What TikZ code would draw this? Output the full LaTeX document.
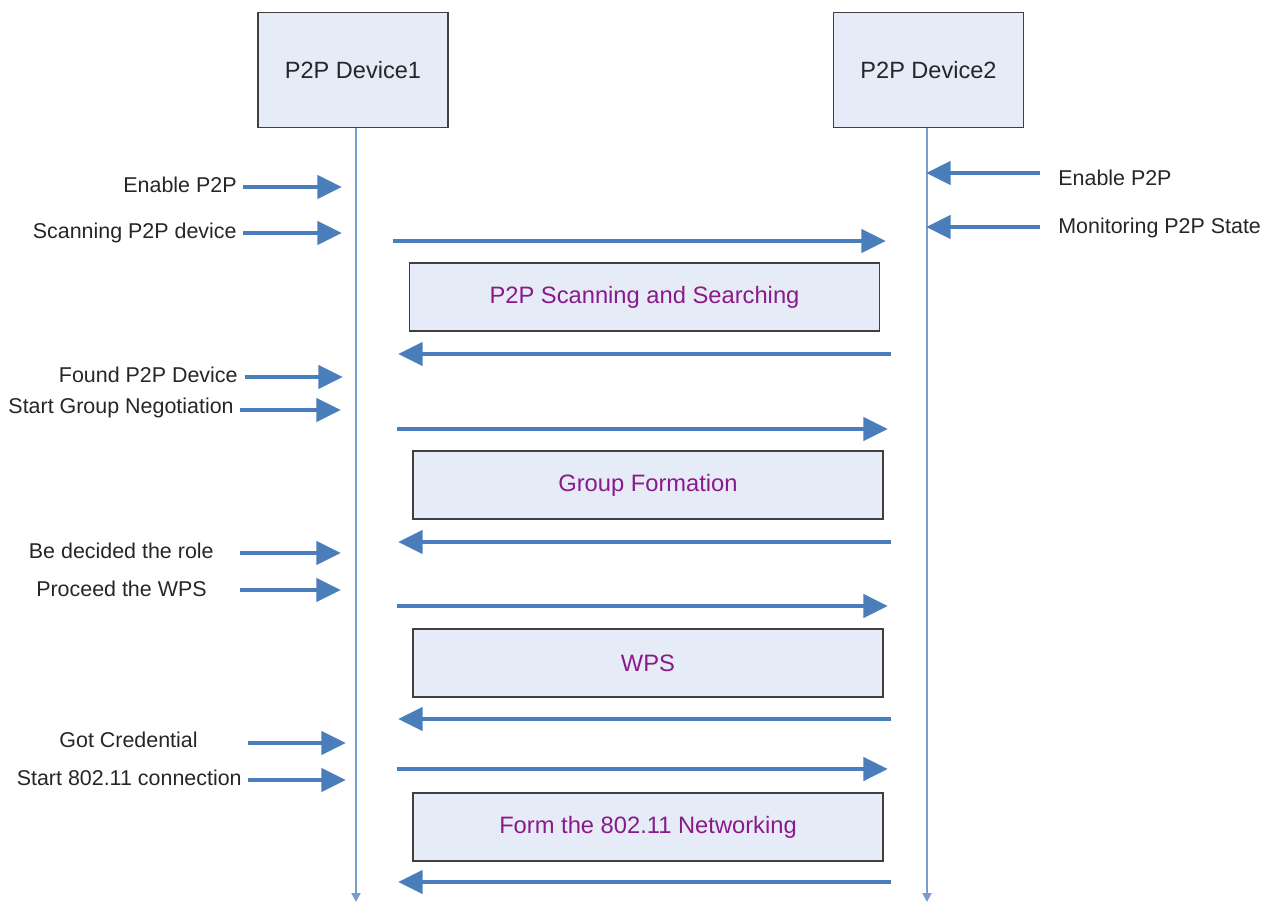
\documentclass[tikz,border=0pt]{standalone}
\usepackage{fontspec}
\setmainfont{Liberation Sans}
\usetikzlibrary{arrows.meta}
\definecolor{flowblue}{HTML}{4A7EBB}
\definecolor{lifeblue}{HTML}{7A9CD0}
\definecolor{boxfill}{HTML}{E6ECF7}
\definecolor{phaseviolet}{HTML}{8A1A8A}

\begin{document}
\begin{tikzpicture}[x=0.02cm,y=-0.02cm,
  device/.style={draw=black!75,line width=1pt,fill=boxfill,minimum width=3.8cm,minimum height=2.3cm,font=\fontsize{13.4}{16}\selectfont,text=black!85},
  phase/.style={draw=black!75,line width=1pt,fill=boxfill,minimum width=9.4cm,minimum height=1.36cm,font=\fontsize{13.5}{16}\selectfont,text=phaseviolet},
  lbl/.style={font=\fontsize{12.2}{14}\selectfont,text=black!85,inner sep=0pt},
  msg/.style={draw=flowblue,line width=2.8pt,-{Triangle[length=14pt,width=13pt]}},
  life/.style={draw=lifeblue,line width=1.1pt,-{Triangle[length=5pt,width=5pt]}}]
\useasboundingbox (0,0) rectangle (1270,903);

\node[device] (dev1) at (353,70) {P2P Device1};
\node[device] (dev2) at (928.5,70) {P2P Device2};
\coordinate (end1) at (356,902);
\coordinate (end2) at (927,902);
\draw[life] (dev1.south -| end1) -- (end1);
\draw[life] (dev2.south -| end2) -- (end2);

\node[phase] (scan) at (644.5,297) {P2P Scanning and Searching};
\node[phase] (group) at (648,485) {Group Formation};
\node[phase] (wps) at (648,663) {WPS};
\node[phase] (form) at (648,827) {Form the 802.11 Networking};

% actions on device1
\foreach \i/\y/\ty/\tx/\ax/\bx/\txt in {
  1/187/192/237/243/342/Enable P2P,
  2/233/238/237/243/342/Scanning P2P device,
  3/377/382/238/245/343/Found P2P Device,
  4/410/413/234/240/341/Start Group Negotiation,
  5/553/558/214/240/341/Be decided the role,
  6/590/596/207/240/341/Proceed the WPS,
  7/743/747/198/248/346/Got Credential,
  8/780/785/242/248/346/Start 802.11 connection}{
  \node[lbl,anchor=base east] (act\i) at (\tx,\ty) {\txt};
  \coordinate (acta\i) at (\ax,\y);
  \coordinate (actb\i) at (\bx,\y);
  \draw[msg] (acta\i) -- (actb\i);
}

% actions on device2
\foreach \i/\y/\ty/\txt in {1/173/185/Enable P2P,2/227/233/Monitoring P2P State}{
  \node[lbl,anchor=base west] (resp\i) at (1058,\ty) {\txt};
  \coordinate (respa\i) at (1040,\y);
  \coordinate (respb\i) at (926,\y);
  \draw[msg] (respa\i) -- (respb\i);
}

% frames between the devices
\foreach \i/\y/\ax/\bx in {1/241/393/886, 2/429/397/888, 3/606/397/888, 4/769/397/888}{
  \coordinate (req\i) at (\ax,\y);
  \coordinate (reqe\i) at (\bx,\y);
  \draw[msg] (req\i) -- (reqe\i);
}
\foreach \i/\y in {1/354, 2/542, 3/719, 4/882}{
  \coordinate (ans\i) at (891,\y);
  \coordinate (anse\i) at (398,\y);
  \draw[msg] (ans\i) -- (anse\i);
}
\end{tikzpicture}
\end{document}
